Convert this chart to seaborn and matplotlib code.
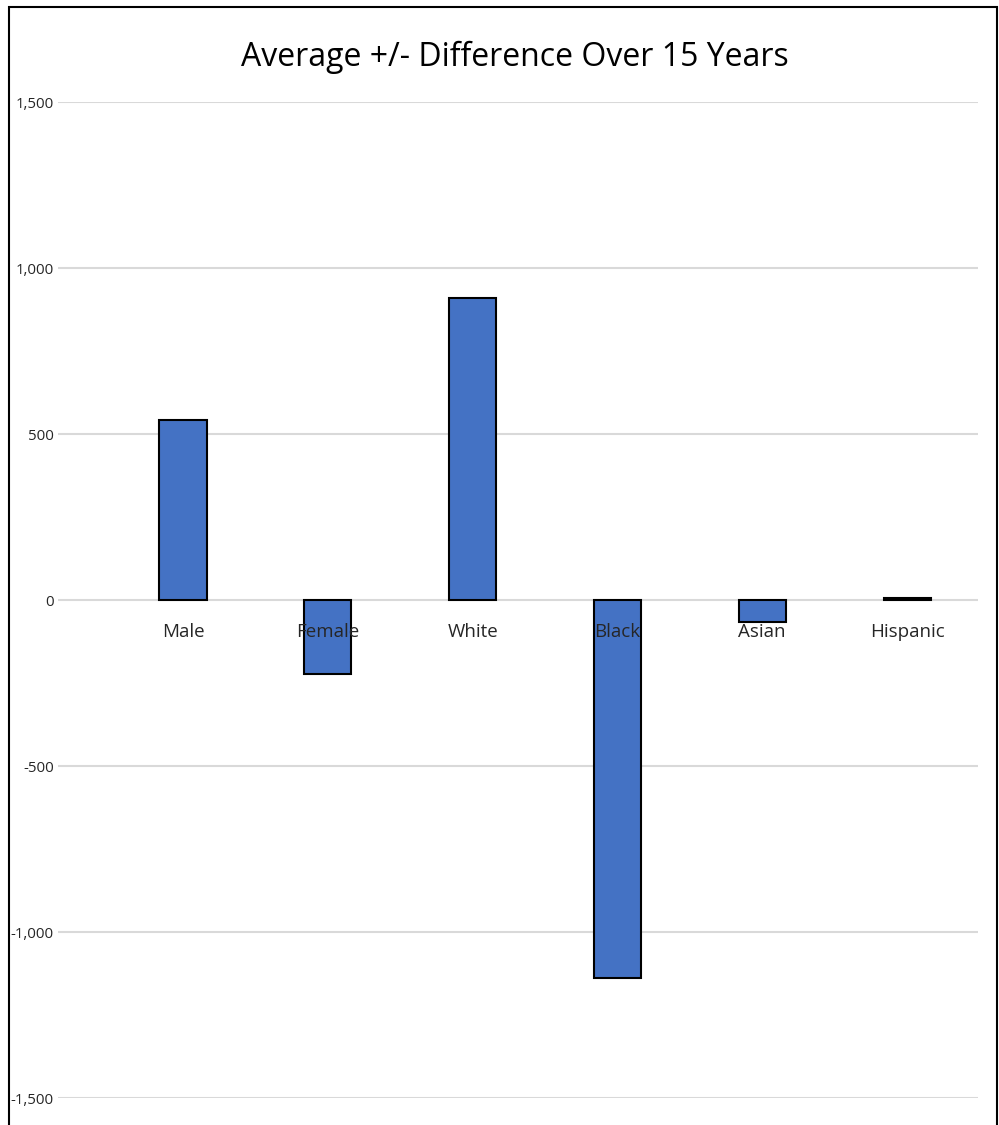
import matplotlib
matplotlib.use("Agg")
import matplotlib.pyplot as plt
import seaborn as sns
import pandas as pd
from matplotlib.patches import Rectangle
from matplotlib.ticker import FuncFormatter

categories = ["Male", "Female", "White", "Black", "Asian", "Hispanic"]
values = [543, -222, 910, -1140, -67, 6]
y_ticks = [-1500, -1000, -500, 0, 500, 1000, 1500]
title = "Average +/- Difference Over 15 Years"

sns.set_theme(style="white")
plt.rcParams['font.family'] = ['Open Sans', 'DejaVu Sans']

df = pd.DataFrame({"cat": categories, "val": values})

W, H = 999, 1125
fig = plt.figure(figsize=(W / 100, H / 100), dpi=100)
ax = fig.add_axes([58 / W, 1 - 1098 / H, (978 - 58) / W, (1098 - 102) / H])

sns.barplot(data=df, x="cat", y="val", ax=ax, color="#4472C4", width=0.325,
            edgecolor="black", linewidth=1.5, saturation=1, zorder=3)

ax.set_ylim(-1500, 1500)
ax.set_xlim(-0.863, 5.49)
ax.set_yticks(y_ticks)
ax.yaxis.set_major_formatter(FuncFormatter(lambda v, p: f"{int(v):,}"))
ax.yaxis.grid(True, color="#D9D9D9", linewidth=1.5, zorder=0)
ax.set_axisbelow(True)
for s in ax.spines.values():
    s.set_visible(False)
ax.tick_params(axis="y", length=0, pad=3, labelsize=10.8, labelcolor="#262626")
ax.set_xticks([])
ax.set_xlabel("")
ax.set_ylabel("")

for i, c in enumerate(categories):
    ax.annotate(c, xy=(i, 0), xytext=(0, -23), textcoords="offset points",
                ha="center", va="center", fontsize=13.5, color="#262626", zorder=5)

fig.text(515 / W, 1 - 57 / H, title, ha="center", va="center", fontsize=23, color="#000000")

fig.patches.append(Rectangle((8.5 / W, -0.1), (997 - 8.5) / W, 1.1 - 6.5 / H,
                             transform=fig.transFigure, fill=False,
                             edgecolor="black", linewidth=1.5))

fig.savefig("out.png", dpi=100)
